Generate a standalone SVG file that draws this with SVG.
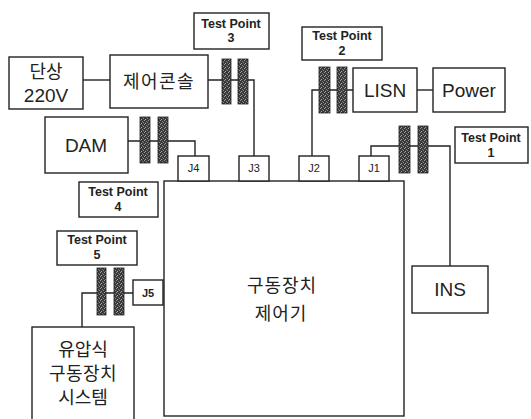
<svg xmlns="http://www.w3.org/2000/svg" width="531" height="419" viewBox="0 0 531 419">
<defs>
<pattern id="fer" width="4" height="4" patternUnits="userSpaceOnUse">
<rect width="4" height="4" fill="#3a3a3a"/>
<rect x="0" y="0" width="1" height="1" fill="#9a9a9a"/>
<rect x="2" y="1" width="1" height="1" fill="#7a7a7a"/>
<rect x="1" y="3" width="1" height="1" fill="#aaaaaa"/>
<rect x="3" y="2" width="1" height="1" fill="#8a8a8a"/>
</pattern>
</defs>
<style>
.box{fill:#fff;stroke:#222;stroke-width:1.4}
.ln{fill:none;stroke:#222;stroke-width:1.4}
.fer{fill:url(#fer);stroke:#222;stroke-width:0.8}
.lab{font-family:"Liberation Sans",Arial,sans-serif;font-size:19px;fill:#222;text-anchor:middle}
.ko{font-family:"Noto Sans CJK KR","Liberation Sans",sans-serif;font-size:18px;fill:#222;text-anchor:middle}
.tp{font-family:"Liberation Sans",Arial,sans-serif;font-size:12.5px;font-weight:bold;fill:#222;text-anchor:middle}
.j{font-family:"Liberation Sans",Arial,sans-serif;font-size:11px;fill:#222;text-anchor:middle}
</style>
<g id="connectors">
<line class="ln" x1="83" y1="80" x2="110" y2="80"/>
<polyline class="ln" points="208,80 254,80 254,156"/>
<polyline class="ln" points="128,141 195,141 195,156"/>
<polyline class="ln" points="353,90 312,90 312,156"/>
<line class="ln" x1="417" y1="90" x2="433" y2="90"/>
<polyline class="ln" points="371,156 371,146 450,146 450,266"/>
<polyline class="ln" points="133,293 82,293 82,327"/>
</g>
<g id="ferrites">
<rect class="fer" x="222" y="59" width="9" height="45"/>
<rect class="fer" x="238" y="59" width="10" height="45"/>
<rect class="fer" x="140" y="117" width="10" height="46"/>
<rect class="fer" x="158" y="117" width="10" height="46"/>
<rect class="fer" x="319" y="67" width="11" height="46"/>
<rect class="fer" x="337" y="67" width="10" height="46"/>
<rect class="fer" x="399" y="126" width="11" height="47"/>
<rect class="fer" x="418" y="126" width="10" height="47"/>
<rect class="fer" x="97" y="268" width="9" height="47"/>
<rect class="fer" x="114" y="268" width="10" height="47"/>
</g>
<g id="power220">
<rect class="box" x="9" y="57" width="74" height="52"/>
<text class="ko" x="46" y="78">단상</text>
<text class="lab" x="46" y="102">220V</text>
</g>
<g id="console">
<rect class="box" x="110" y="55" width="98" height="53"/>
<text class="ko" x="159" y="88" letter-spacing="1.5">제어콘솔</text>
</g>
<g id="tp3">
<rect class="box" x="194" y="13" width="75" height="36"/>
<text class="tp" x="231" y="28">Test Point</text>
<text class="tp" x="231" y="42">3</text>
</g>
<g id="tp2">
<rect class="box" x="302" y="27" width="80" height="33"/>
<text class="tp" x="342" y="40">Test Point</text>
<text class="tp" x="342" y="55">2</text>
</g>
<g id="lisn">
<rect class="box" x="353" y="68" width="64" height="44"/>
<text class="lab" x="385" y="97">LISN</text>
</g>
<g id="power">
<rect class="box" x="433" y="68" width="72" height="44"/>
<text class="lab" x="469" y="97">Power</text>
</g>
<g id="tp1">
<rect class="box" x="455" y="127" width="73" height="36"/>
<text class="tp" x="491" y="142">Test Point</text>
<text class="tp" x="491" y="157">1</text>
</g>
<g id="dam">
<rect class="box" x="45" y="117" width="83" height="56"/>
<text class="lab" x="86" y="152">DAM</text>
</g>
<g id="tp4">
<rect class="box" x="79" y="182" width="79" height="35"/>
<text class="tp" x="118" y="196">Test Point</text>
<text class="tp" x="118" y="211">4</text>
</g>
<g id="tp5">
<rect class="box" x="57" y="231" width="80" height="34"/>
<text class="tp" x="97" y="244">Test Point</text>
<text class="tp" x="97" y="259">5</text>
</g>
<g id="controller">
<rect class="box" x="164" y="181" width="240" height="235"/>
<text class="ko" x="282" y="292" font-size="22" letter-spacing="1">구동장치</text>
<text class="ko" x="281" y="320" font-size="22" letter-spacing="1">제어기</text>
</g>
<g id="j4"><rect class="box" x="178" y="156" width="31" height="25"/><text class="j" x="193.5" y="172">J4</text></g>
<g id="j3"><rect class="box" x="239" y="156" width="30" height="25"/><text class="j" x="254" y="172">J3</text></g>
<g id="j2"><rect class="box" x="299" y="156" width="30" height="25"/><text class="j" x="314" y="172">J2</text></g>
<g id="j1"><rect class="box" x="359" y="156" width="30" height="25"/><text class="j" x="374" y="172">J1</text></g>
<g id="j5"><rect class="box" x="133" y="280" width="30" height="25"/><text class="j" x="148" y="297" font-weight="bold">J5</text></g>
<g id="ins">
<rect class="box" x="412" y="266" width="76" height="47"/>
<text class="lab" x="450" y="296">INS</text>
</g>
<g id="hydraulic">
<rect class="box" x="32" y="327" width="102" height="100"/>
<text class="ko" x="83" y="356" font-size="16">유압식</text>
<text class="ko" x="83" y="380" font-size="16" letter-spacing="0.5">구동장치</text>
<text class="ko" x="83" y="404" font-size="16">시스템</text>
</g>
</svg>
